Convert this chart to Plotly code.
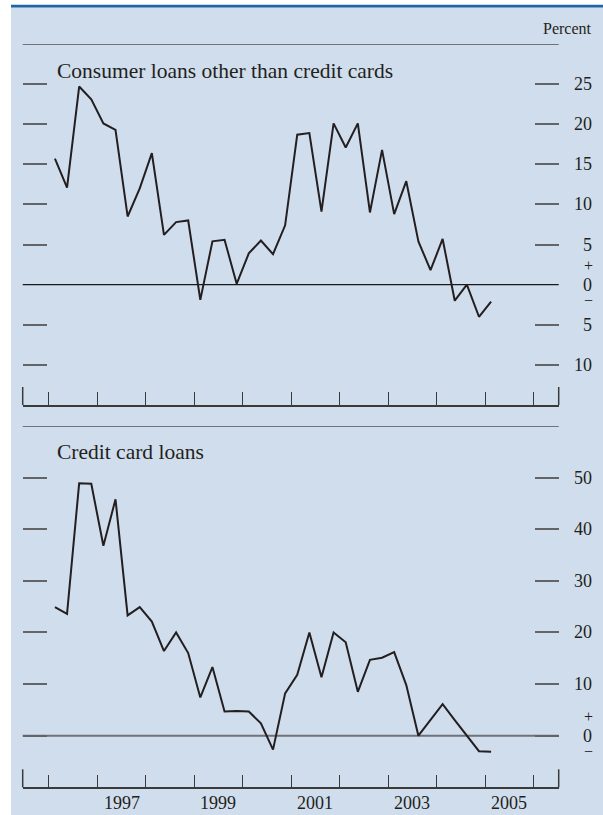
import plotly.graph_objects as go

# ---------------- data ----------------
quarters = [f"{y}Q{q}" for y in range(1996, 2006) for q in range(1, 5)][:37]  # 1996Q1 .. 2005Q1

consumer_other = [15.7, 12.1, 24.7, 23.1, 20.1, 19.3, 8.5, 12.0, 16.4, 6.2,
                  7.8, 8.0, -1.9, 5.4, 5.6, 0.1, 3.9, 5.5, 3.8, 7.4,
                  18.7, 18.9, 9.1, 20.1, 17.1, 20.1, 9.0, 16.8, 8.8, 12.9,
                  5.4, 1.8, 5.7, -2.0, 0.0, -4.0, -2.1]

credit_card = [24.9, 23.6, 48.9, 48.8, 36.8, 45.8, 23.3, 24.9, 22.1, 16.4,
               20.0, 16.0, 7.4, 13.3, 4.7, 4.8, 4.7, 2.4, -2.7, 8.2,
               11.8, 20.0, 11.3, 20.0, 18.1, 8.5, 14.7, 15.1, 16.2, 9.8,
               0.0, 3.0, 6.1, 3.0, 0.0, -3.0, -3.1]

year_ticks = list(range(1996, 2007))
year_labels = [1997, 1999, 2001, 2003, 2005]

top_ticks = [25, 20, 15, 10, 5, -5, -10]
bottom_ticks = [50, 40, 30, 20, 10, 0]

top_title = "Consumer loans other than credit cards"
bottom_title = "Credit card loans"

# ---------------- helpers ----------------
W, H = 603, 815
def px(x):
    return x / W
def py(y):
    return 1 - y / H

def qx(q):
    y, qq = q.split("Q")
    return int(y) + (int(qq) - 0.5) / 4

xs = [qx(q) for q in quarters]

FONT = "Liberation Serif, Times New Roman, serif"
TXT = "#231f20"
LINE = "#231f20"
TICKGRAY = "#626468"
BG = "#d0ddec"

xdom = [px(22.7), px(558.7)]
xrange_ = [1995.46, 2006.52]

fig = go.Figure()
fig.add_trace(go.Scatter(x=xs, y=consumer_other, mode="lines",
                         line=dict(color=LINE, width=2), xaxis="x", yaxis="y",
                         hoverinfo="skip", showlegend=False))
fig.add_trace(go.Scatter(x=xs, y=credit_card, mode="lines",
                         line=dict(color=LINE, width=2), xaxis="x2", yaxis="y2",
                         hoverinfo="skip", showlegend=False))

xaxis_common = dict(domain=xdom, range=xrange_, showgrid=False, zeroline=False,
                    showline=True, linecolor="#3a3a3a", linewidth=1.5,
                    ticks="inside", tickvals=year_ticks, ticklen=13,
                    tickcolor="#3a3a3a", tickwidth=1.3, showticklabels=False,
                    fixedrange=True)
yaxis_common = dict(showgrid=False, zeroline=False, showline=False,
                    ticks="inside", ticklen=24, tickcolor=TICKGRAY, tickwidth=1.6,
                    mirror="ticks", showticklabels=False, fixedrange=True)

fig.update_layout(
    width=W, height=H,
    margin=dict(l=0, r=0, t=0, b=0),
    paper_bgcolor="white", plot_bgcolor="rgba(0,0,0,0)",
    xaxis=dict(anchor="y", **xaxis_common),
    yaxis=dict(anchor="x", domain=[py(405), py(44)], range=[-15, 30],
               tickvals=top_ticks, **yaxis_common),
    xaxis2=dict(anchor="y2", **xaxis_common),
    yaxis2=dict(anchor="x2", domain=[py(787.3), py(426)], range=[-10, 60],
                tickvals=bottom_ticks, **yaxis_common),
)

shapes = []
# background panel and blue top rule
shapes.append(dict(type="rect", xref="paper", yref="paper", x0=px(11), x1=1,
                   y0=0, y1=py(7.3), fillcolor=BG, line=dict(width=0), layer="below"))
shapes.append(dict(type="rect", xref="paper", yref="paper", x0=px(11), x1=1,
                   y0=py(7.5), y1=py(4.8), fillcolor="#1c66a8", line=dict(width=0), layer="below"))

for xr, yr, top_val in (("x", "y", 30), ("x2", "y2", 60)):
    # gray rule on top of panel
    shapes.append(dict(type="line", xref=f"{xr} domain", yref=yr, x0=0, x1=1,
                       y0=top_val, y1=top_val, line=dict(color="#707378", width=2)))
    # taller edge ticks at both ends of the time axis
    for xe in (0, 1):
        shapes.append(dict(type="line", xref=f"{xr} domain", yref=f"{yr} domain",
                           x0=xe, x1=xe, y0=0, y1=18 / 361,
                           line=dict(color="#3a3a3a", width=1.5)))

# zero lines
shapes.append(dict(type="line", xref="x domain", yref="y", x0=0, x1=1, y0=0, y1=0,
                   line=dict(color="#1a1a1a", width=1.2), layer="below"))
shapes.append(dict(type="line", xref="x2 domain", yref="y2", x0=0, x1=1, y0=0, y1=0,
                   line=dict(color="#6f7276", width=2), layer="below"))

fig.update_layout(shapes=shapes)

ann = []
def label(text, x, y, yref, xanchor="right", size=18, yshift=0):
    ann.append(dict(text=text, x=x, y=y, xref="paper", yref=yref, xanchor=xanchor,
                    yanchor="middle", showarrow=False, yshift=yshift,
                    font=dict(family=FONT, size=size, color=TXT)))

XR = px(594)
XC = px(588.5)
for v in top_ticks:
    label(str(abs(v)), XR, v, "y")
for v in bottom_ticks:
    if v != 0:
        label(str(abs(v)), XR, v, "y2")
for yr in ("y", "y2"):
    label("0", XR, 0, yr)
    label("+", XC, 0, yr, xanchor="center", size=16, yshift=19)
    label("\u2212", XC, 0, yr, xanchor="center", size=16, yshift=-16)

# year labels centered in year intervals
for yv in year_labels:
    ann.append(dict(text=str(yv), x=yv + 0.5, y=py(803), xref="x2", yref="paper",
                    xanchor="center", yanchor="middle", showarrow=False,
                    font=dict(family=FONT, size=18, color=TXT)))

# titles and unit
ann.append(dict(text=top_title, x=px(55), y=py(71), xref="paper", yref="paper",
                xanchor="left", yanchor="middle", showarrow=False,
                font=dict(family=FONT, size=21.5, color=TXT)))
ann.append(dict(text=bottom_title, x=px(55), y=py(451.5), xref="paper", yref="paper",
                xanchor="left", yanchor="middle", showarrow=False,
                font=dict(family=FONT, size=21.5, color=TXT)))
ann.append(dict(text="Percent", x=px(594), y=py(28), xref="paper", yref="paper",
                xanchor="right", yanchor="middle", showarrow=False,
                font=dict(family=FONT, size=16, color=TXT)))

fig.update_layout(annotations=ann)

fig.write_html(
    "out.html",
    config={"displayModeBar": False},
    post_script="document.body.style.margin='0';document.body.style.padding='0';"
                "document.body.style.overflow='hidden';"
                "document.documentElement.style.overflow='hidden';",
)
